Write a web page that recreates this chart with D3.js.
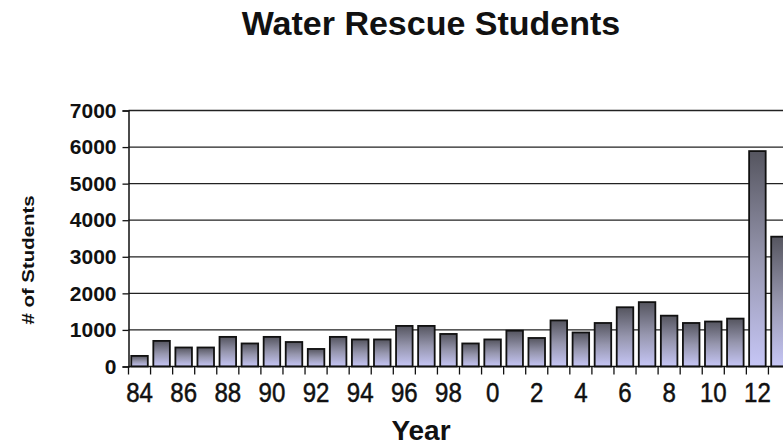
<!DOCTYPE html>
<html>
<head>
<meta charset="utf-8">
<script src="https://cdn.jsdelivr.net/npm/d3@7/dist/d3.min.js"></script>
<style>
  html, body { margin: 0; padding: 0; background: #fff; }
  svg { display: block; }
  text { fill: #111; }
</style>
</head>
<body>
<svg id="chart" width="783" height="447"></svg>
<script>
// Students trained per year, 1984 through 2013
const years = ["84","85","86","87","88","89","90","91","92","93","94","95","96","97","98","99",
               "0","1","2","3","4","5","6","7","8","9","10","11","12","13"];
const students = [290, 700, 520, 520, 810, 630, 810, 670, 480, 810, 740, 740, 1110, 1110, 890, 630,
                  740, 980, 780, 1260, 930, 1190, 1620, 1760, 1390, 1190, 1230, 1310, 5890, 3550];
const yTicks = [0, 1000, 2000, 3000, 4000, 5000, 6000, 7000];
const xLabels = ["84","86","88","90","92","94","96","98","0","2","4","6","8","10","12"];

const svg = d3.select("#chart");
const plotLeft = 128.5, plotRight = 790.5, plotTop = 110.5, plotBottom = 366.5;

const x = d3.scaleBand().domain(years).range([plotLeft, plotRight]).paddingInner(0.25).paddingOuter(0.125);
const y = d3.scaleLinear().domain([0, 7000]).range([plotBottom, plotTop]);

// Bar fill: dark gray at the top fading to lavender at the base
const grad = svg.append("defs").append("linearGradient")
  .attr("id", "barFill").attr("x1", 0).attr("y1", 0).attr("x2", 0).attr("y2", 1);
grad.append("stop").attr("offset", "0%").attr("stop-color", "#55555f");
grad.append("stop").attr("offset", "50%").attr("stop-color", "#9696ae");
grad.append("stop").attr("offset", "100%").attr("stop-color", "#c6c6f6");

// Title
svg.append("text")
  .attr("x", 431).attr("y", 35)
  .attr("text-anchor", "middle")
  .style("font-family", "Liberation Sans, Arial, sans-serif")
  .style("font-weight", "bold").style("font-size", "34px")
  .text("Water Rescue Students");

// Horizontal gridlines
svg.append("g").selectAll("line").data(yTicks.filter(d => d > 0)).join("line")
  .attr("x1", plotLeft).attr("x2", 783)
  .attr("y1", d => y(d)).attr("y2", d => y(d))
  .attr("stroke", "#222").attr("stroke-width", 1.3);

// Y axis
const yAxis = svg.append("g").attr("transform", `translate(${plotLeft},0)`)
  .call(d3.axisLeft(y).tickValues(yTicks).tickSize(6).tickPadding(6).tickFormat(d3.format("d")));
yAxis.select(".domain").attr("stroke", "#111").attr("stroke-width", 1.5);
yAxis.selectAll(".tick line").attr("stroke", "#111").attr("stroke-width", 1.3);
yAxis.selectAll("text")
  .style("font-family", "Liberation Sans, Arial, sans-serif")
  .style("font-weight", "bold").style("font-size", "21px").attr("fill", "#111");

// Bars
svg.append("g").selectAll("rect").data(years).join("rect")
  .attr("x", d => x(d))
  .attr("y", (d, i) => y(students[i]))
  .attr("width", x.bandwidth())
  .attr("height", (d, i) => y(0) - y(students[i]))
  .attr("fill", "url(#barFill)")
  .attr("stroke", "#111").attr("stroke-width", 1.8);

// X axis baseline and boundary ticks
const step = x.step();
const boundaries = d3.range(years.length + 1).map(i => plotLeft + i * step);
const xg = svg.append("g");
xg.append("line").attr("x1", plotLeft).attr("x2", 783).attr("y1", plotBottom).attr("y2", plotBottom)
  .attr("stroke", "#111").attr("stroke-width", 1.5);
xg.selectAll("line.tk").data(boundaries).join("line").attr("class", "tk")
  .attr("x1", d => d).attr("x2", d => d).attr("y1", plotBottom).attr("y2", plotBottom + 8)
  .attr("stroke", "#111").attr("stroke-width", 1.3);

// Year labels on every second bar, set in a condensed face
xg.selectAll("text").data(xLabels).join("text")
  .attr("transform", d => `translate(${x(d) + x.bandwidth() / 2},402) scale(0.86,1)`)
  .attr("text-anchor", "middle")
  .style("font-family", "Liberation Sans, Arial, sans-serif")
  .style("font-size", "28px")
  .style("stroke", "#111").style("stroke-width", 0.5)
  .text(d => d);

// Axis titles
svg.append("text")
  .attr("x", 421).attr("y", 440)
  .attr("text-anchor", "middle")
  .style("font-family", "Liberation Sans, Arial, sans-serif")
  .style("font-weight", "bold").style("font-size", "28px")
  .text("Year");

svg.append("text")
  .attr("transform", "translate(34,260) rotate(-90) scale(1.2,1)")
  .attr("text-anchor", "middle")
  .style("font-family", "Liberation Sans, Arial, sans-serif")
  .style("font-weight", "bold").style("font-size", "17px")
  .text("# of Students");
</script>
</body>
</html>
